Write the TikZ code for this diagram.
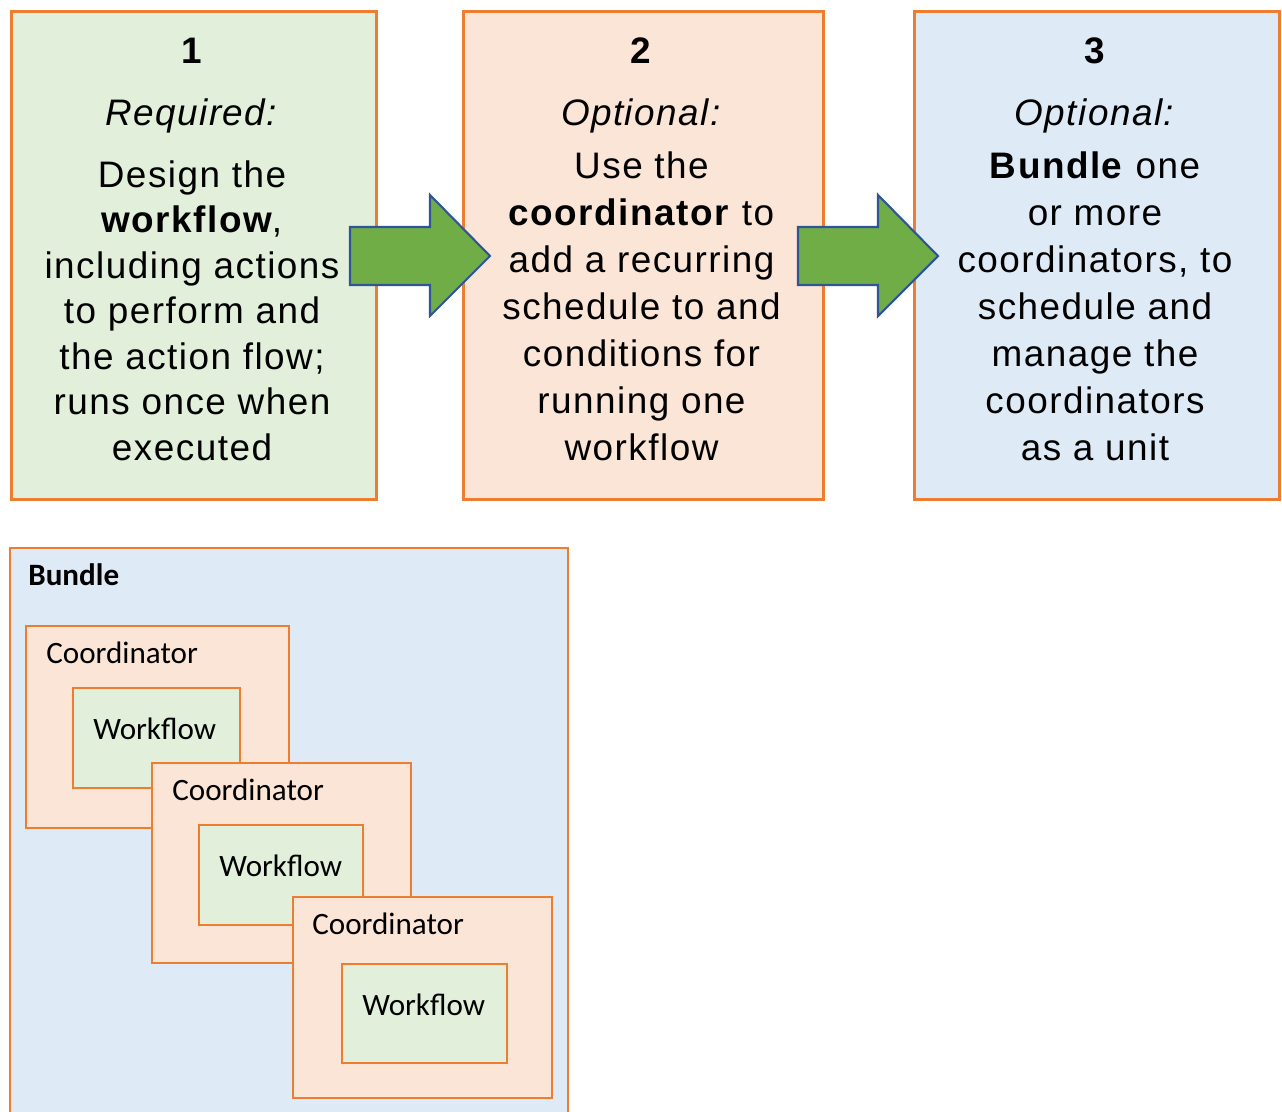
\documentclass[tikz,border=0pt]{standalone}
\usepackage{fontspec}
\setmainfont{Liberation Sans}
\newfontfamily\spacedsans[LetterSpace=4]{Liberation Sans}
\newfontfamily\carl{Carlito}
\definecolor{bordor}{HTML}{ED7D31}
\definecolor{fgreen}{HTML}{E2EFDA}
\definecolor{forange}{HTML}{FBE5D6}
\definecolor{fblue}{HTML}{DEEBF7}
\definecolor{agreen}{HTML}{70AD47}
\definecolor{ablue}{HTML}{2F5597}
\tikzset{
  bigbox/.style={draw=bordor, line width=1.7pt, inner sep=0, minimum width=#1},
  bigbox/.default=7.32cm,
  smallbox/.style={draw=bordor, line width=1.4pt, inner sep=0},
  txt/.style={font=\spacedsans\fontsize{21}{25}\selectfont, anchor=base, inner sep=0},
  lbl/.style={font=\carl\fontsize{17.7}{20}\selectfont, anchor=base west, inner sep=0},
  blockarrow/.style={draw=ablue, fill=agreen, line width=1.2pt, line join=miter}
}
\begin{document}
\begin{tikzpicture}[x=0.02cm,y=-0.02cm]
\useasboundingbox (0,0) rectangle (1282,1112);
% top boxes
\node[bigbox=7.32cm, minimum height=9.78cm, fill=fgreen] (b1) at (194,255.5) {};
\node[bigbox=7.22cm, minimum height=9.78cm, fill=forange] (b2) at (643.5,255.5) {};
\node[bigbox=7.32cm, minimum height=9.78cm, fill=fblue] (b3) at (1097,255.5) {};
% arrows
\draw[blockarrow] (350,227) -- (430,227) -- (430,195) -- (490,256) -- (430,316) -- (430,285) -- (350,285) -- cycle;
\draw[blockarrow] (798,227) -- (878,227) -- (878,195) -- (938,256) -- (878,316) -- (878,285) -- (798,285) -- cycle;
% box 1 text
\node[txt] (n1) at (192,63) {\textbf{1}};
\node[txt] (r1) at (192,125) {\textit{Required:}};
\foreach \t [count=\i] in {Design the, {\textbf{workflow},}, including actions, to perform and, the action flow;, runs once when, executed}
  \node[txt] (a\i) at (192,{187+45.5*(\i-1)}) {\t};
% box 2 text
\node[txt] (n2) at (641.5,63) {\textbf{2}};
\node[txt] (r2) at (641.5,125) {\textit{Optional:}};
\foreach \t [count=\i] in {Use the, {\textbf{coordinator} to}, add a recurring, schedule to and, conditions for, running one, workflow}
  \node[txt] (c\i) at (641.5,{178+47*(\i-1)}) {\t};
% box 3 text
\node[txt] (n3) at (1095,63) {\textbf{3}};
\node[txt] (r3) at (1095,125) {\textit{Optional:}};
\foreach \t [count=\i] in {{\textbf{Bundle} one}, or more, {coordinators, to}, schedule and, manage the, coordinators, as a unit}
  \node[txt] (d\i) at (1095,{178+47*(\i-1)}) {\t};
% bottom bundle
\path[draw=bordor, line width=1.2pt, fill=fblue] (10,1130) -- (10,548) -- (568,548) -- (568,1130);
\coordinate (bundletl) at (10,548);
\node[lbl, font=\carl\bfseries\fontsize{17.7}{20}\selectfont] (bundle) at (28,585) {Bundle};
% coordinator 1
\node[smallbox, fill=forange, minimum width=5.26cm, minimum height=4.04cm] (co1) at (157.5,727) {};
\node[smallbox, fill=fgreen, minimum width=3.34cm, minimum height=2cm] (wf1) at (156.5,738) {};
\node[lbl] (co1t) at (46,663) {Coordinator};
\node[lbl] (wf1t) at (93,739) {Workflow};
% coordinator 2
\node[smallbox, fill=forange, minimum width=5.18cm, minimum height=4cm] (co2) at (281.5,863) {};
\node[smallbox, fill=fgreen, minimum width=3.28cm, minimum height=2cm] (wf2) at (281,875) {};
\node[lbl] (co2t) at (172,800) {Coordinator};
\node[lbl] (wf2t) at (219,876) {Workflow};
% coordinator 3
\node[smallbox, fill=forange, minimum width=5.18cm, minimum height=4.02cm] (co3) at (422.5,997.5) {};
\node[smallbox, fill=fgreen, minimum width=3.3cm, minimum height=1.98cm] (wf3) at (424.5,1013.5) {};
\node[lbl] (co3t) at (312,934) {Coordinator};
\node[lbl] (wf3t) at (362,1015) {Workflow};
\end{tikzpicture}
\end{document}
